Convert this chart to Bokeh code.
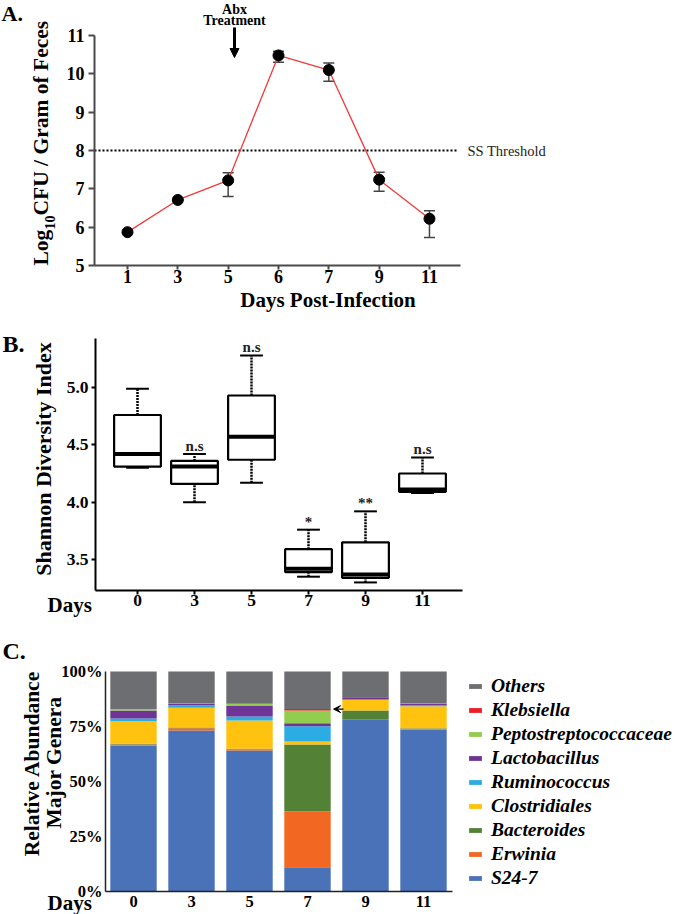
import math
from bokeh.plotting import figure
from bokeh.models import (ColumnDataSource, FixedTicker, Label, Arrow, NormalHead, VeeHead,
                          TeeHead, Whisker, Legend, LegendItem)
from bokeh.layouts import column
from bokeh.embed import file_html
from bokeh.resources import INLINE
from bokeh.core.properties import value

FONT = "Liberation Serif"

# ---------------- data ----------------
# Panel A: pathogen load
days_a = ["1", "3", "5", "6", "7", "9", "11"]
cfu_mean = [5.87, 6.71, 7.22, 10.48, 10.10, 7.24, 6.22]
cfu_lower = [5.87, 6.71, 6.80, 10.30, 9.81, 6.94, 5.73]
cfu_upper = [5.87, 6.71, 7.42, 10.59, 10.28, 7.43, 6.43]
threshold = 8
y_ticks_a = [5, 6, 7, 8, 9, 10, 11]

# Panel B: Shannon diversity box plots
days_b = ["0", "3", "5", "7", "9", "11"]
shannon_low = [4.30, 4.00, 4.17, 3.35, 3.30, 4.08]
shannon_q1 = [4.31, 4.16, 4.37, 3.39, 3.34, 4.09]
shannon_med = [4.42, 4.31, 4.57, 3.42, 3.37, 4.11]
shannon_q3 = [4.76, 4.36, 4.93, 3.59, 3.65, 4.25]
shannon_high = [4.99, 4.42, 5.28, 3.76, 3.92, 4.39]
signif = ["", "n.s", "n.s", "*", "**", "n.s"]
y_ticks_b = [3.5, 4.0, 4.5, 5.0]

# Panel C: relative abundance (%)
days_c = ["0", "3", "5", "7", "9", "11"]
genera = ["S24-7", "Erwinia", "Bacteroides", "Clostridiales", "Ruminococcus",
          "Lactobacillus", "Peptostreptococcaceae", "Klebsiella", "Others"]
s24_7 = [66.4, 73.2, 64.1, 11.0, 78.0, 73.6]
erwinia = [0.4, 1.0, 0.4, 25.4, 0.4, 0.4]
bacteroides = [0.4, 0.3, 0.4, 30.4, 3.9, 0.2]
clostridiales = [10.2, 9.0, 12.8, 1.4, 4.8, 10.0]
ruminococcus = [1.2, 1.2, 1.8, 6.9, 0.3, 0.5]
lactobacillus = [3.7, 0.6, 5.0, 1.4, 0.9, 0.6]
peptostrep = [0.6, 0.2, 0.8, 5.8, 0.0, 0.2]
klebsiella = [0.0, 0.0, 0.0, 0.6, 0.0, 0.0]
others = [17.1, 14.5, 14.7, 17.1, 11.7, 14.5]
y_ticks_c = [0, 25, 50, 75, 100]
colors_c = ["#4A72B8", "#F26722", "#538135", "#FFC20E", "#2BACE2",
            "#6E3596", "#92CD50", "#EE1C25", "#6D6E71"]

# ---------------- helpers ----------------
W = 675


def style_axis(ax, size, line_w=2.0, tick_out=5, standoff=2, color="black"):
    ax.axis_line_color = color
    ax.axis_line_width = line_w
    ax.major_tick_line_color = color if tick_out else None
    ax.major_tick_line_width = line_w
    ax.major_tick_in = 0
    ax.major_tick_out = tick_out
    ax.minor_tick_line_color = None
    ax.major_label_text_font = FONT
    ax.major_label_text_font_style = "bold"
    ax.major_label_text_font_size = size
    ax.major_label_text_color = "black"
    ax.major_label_standoff = standoff


def base_fig(h, xr, yr):
    # the frame fills the whole figure; axes are pinned with fixed_location
    p = figure(width=W, height=h, x_range=xr, y_range=yr, output_backend="svg",
               toolbar_location=None, min_border_left=0, min_border_right=0,
               min_border_top=0, min_border_bottom=0)
    p.grid.visible = False
    p.outline_line_color = None
    p.background_fill_color = "white"
    p.border_fill_color = "white"
    return p


def add_text(p, fig_bottom, text, px, py, size, style="bold", align="left",
             baseline="middle", angle=0.0, color="black"):
    p.add_layout(Label(x=px, y=fig_bottom - py, x_units="screen",
                       y_units="screen", text=text, text_font=FONT, text_font_size=size,
                       text_font_style=style, text_align=align, text_baseline=baseline,
                       angle=angle, text_color=color))


# ---------------- Panel A ----------------
A_TOP, A_BOT = 0, 314
A_X0, A_DX = 127, 50.33
A_Y5, A_DY = 265, 38.33


def ax_a(px):
    return (px - A_X0) / A_DX


def ay_a(py):
    return 5 + (A_Y5 - py) / A_DY


xa = list(range(len(days_a)))
pA = base_fig(A_BOT - A_TOP, (ax_a(0), ax_a(W)), (ay_a(A_BOT), ay_a(A_TOP)))
style_axis(pA.xaxis[0], "18px", tick_out=4, standoff=0, color="#4a4a4a")
style_axis(pA.yaxis[0], "18px", tick_out=6, standoff=4, color="#4a4a4a")
pA.xaxis.ticker = FixedTicker(ticks=xa)
pA.xaxis.major_label_overrides = {i: d for i, d in enumerate(days_a)}
pA.xaxis.bounds = (ax_a(94), ax_a(460))
pA.xaxis.fixed_location = y_ticks_a[0]
pA.yaxis.ticker = FixedTicker(ticks=y_ticks_a)
pA.yaxis.bounds = (y_ticks_a[0], y_ticks_a[-1])
pA.yaxis.fixed_location = ax_a(94)

srcA = ColumnDataSource(dict(x=xa, mean=cfu_mean, lower=cfu_lower, upper=cfu_upper))
pA.line([ax_a(94), ax_a(458)], [threshold, threshold], line_dash="2 2",
        line_color="black", line_width=2)
pA.line("x", "mean", source=srcA, line_color="#F03A3A", line_width=1.3)
pA.add_layout(Whisker(base="x", lower="lower", upper="upper", source=srcA,
                      line_color="#444444", line_width=1.5,
                      upper_head=TeeHead(size=11, line_color="#444444", line_width=1.5),
                      lower_head=TeeHead(size=11, line_color="#444444", line_width=1.5)))
pA.scatter("x", "mean", source=srcA, size=11, color="black")

pA.add_layout(Label(x=ax_a(460), y=threshold, x_offset=7, text="SS Threshold",
                    text_font=FONT, text_font_size="14.5px", text_baseline="middle",
                    text_color="#222222"))
pA.add_layout(Arrow(x_start=ax_a(234), y_start=ay_a(27), x_end=ax_a(234), y_end=ay_a(57),
                    line_width=3, line_color="black",
                    end=NormalHead(size=9, fill_color="black", line_color="black")))
add_text(pA, A_BOT, "Abx", 234, 9, "14px", align="center")
add_text(pA, A_BOT, "Treatment", 234, 20, "14px", align="center")
add_text(pA, A_BOT, "A.", 1, 13, "22px")
add_text(pA, A_BOT, "Log", 40, 265, "21.5px", angle=math.pi / 2)
add_text(pA, A_BOT, "10", 49, 229, "14px", angle=math.pi / 2)
add_text(pA, A_BOT, " CFU / Gram of Feces", 40, 215, "21.5px", angle=math.pi / 2)
add_text(pA, A_BOT, "Days Post-Infection", 327.5, 299.5, "21px", align="center")

# ---------------- Panel B ----------------
B_TOP, B_BOT = 314, 618
B_X0, B_DX = 137, 57
B_YREF, B_DY = 559, 114.67


def ax_b(px):
    return (px - B_X0) / B_DX


def ay_b(py):
    return 3.5 + (B_YREF - py) / B_DY


xb = list(range(len(days_b)))
pB = base_fig(B_BOT - B_TOP, (ax_b(0), ax_b(W)), (ay_b(B_BOT), ay_b(B_TOP)))
style_axis(pB.xaxis[0], "17.5px", tick_out=4, standoff=0)
style_axis(pB.yaxis[0], "17.5px", tick_out=4, standoff=3)
pB.xaxis.ticker = FixedTicker(ticks=xb)
pB.xaxis.major_label_overrides = {i: d for i, d in enumerate(days_b)}
pB.xaxis.bounds = (ax_b(95), ax_b(462))
pB.xaxis.fixed_location = ay_b(590)
pB.yaxis.ticker = FixedTicker(ticks=y_ticks_b)
pB.yaxis.major_label_overrides = {t: f"{t:.1f}" for t in y_ticks_b}
pB.yaxis.bounds = (ay_b(590), ay_b(338))
pB.yaxis.fixed_location = ax_b(95)

half_box, half_cap = 0.41, 0.2
srcB = ColumnDataSource(dict(
    x=xb, low=shannon_low, q1=shannon_q1, med=shannon_med, q3=shannon_q3,
    high=shannon_high, sig=signif,
    bl=[v - half_box for v in xb], br=[v + half_box for v in xb],
    cl=[v - half_cap for v in xb], cr=[v + half_cap for v in xb]))
pB.segment(x0="x", y0="q3", x1="x", y1="high", source=srcB, line_dash="2 1",
           line_width=2.5, line_color="black")
pB.segment(x0="x", y0="low", x1="x", y1="q1", source=srcB, line_dash="2 1",
           line_width=2.5, line_color="black")
pB.segment(x0="cl", y0="high", x1="cr", y1="high", source=srcB, line_width=2,
           line_color="black")
pB.segment(x0="cl", y0="low", x1="cr", y1="low", source=srcB, line_width=2,
           line_color="black")
pB.quad(left="bl", right="br", bottom="q1", top="q3", source=srcB, fill_color="white",
        line_color="black", line_width=2.2)
pB.segment(x0="bl", y0="med", x1="br", y1="med", source=srcB, line_width=4,
           line_color="black")
pB.text(x="x", y="high", text="sig", source=srcB, y_offset=-8, text_align="center",
        text_baseline="middle", text_font=value(FONT), text_font_style="bold",
        text_font_size="15px", text_color="#222222")

add_text(pB, B_BOT, "B.", 2, 343.5, "24px")
add_text(pB, B_BOT, "Shannon Diversity Index", 42.5, 458.5, "22px", align="center",
         angle=math.pi / 2)
add_text(pB, B_BOT, "Days", 47, 604, "21px")

# ---------------- Panel C ----------------
C_TOP, C_BOT = 618, 914
C_X0, C_DX = 133, 58
C_Y0, C_DY = 891, 2.2   # page y of 0 %, px per %


def ax_c(px):
    return (px - C_X0) / C_DX


def ay_c(py):
    return (C_Y0 - py) / C_DY


xc = list(range(len(days_c)))
pC = base_fig(C_BOT - C_TOP, (ax_c(0), ax_c(W)), (ay_c(C_BOT), ay_c(C_TOP)))
style_axis(pC.xaxis[0], "16.5px", line_w=1.5, tick_out=0, standoff=4, color="#222222")
style_axis(pC.yaxis[0], "16.5px", line_w=1.5, tick_out=0, standoff=3, color="#222222")
pC.xaxis.ticker = FixedTicker(ticks=xc)
pC.xaxis.major_label_overrides = {i: d for i, d in enumerate(days_c)}
pC.xaxis.bounds = (ax_c(105), ax_c(452))
pC.xaxis.fixed_location = y_ticks_c[0]
pC.yaxis.ticker = FixedTicker(ticks=y_ticks_c)
pC.yaxis.major_label_overrides = {t: f"{t}%" for t in y_ticks_c}
pC.yaxis.bounds = (y_ticks_c[0], y_ticks_c[-1])
pC.yaxis.fixed_location = ax_c(105)

series_c = [s24_7, erwinia, bacteroides, clostridiales, ruminococcus,
            lactobacillus, peptostrep, klebsiella, others]
srcC = ColumnDataSource(dict(x=xc, **{g: v for g, v in zip(genera, series_c)}))
rs = pC.vbar_stack(genera, x="x", width=0.8, fill_color=colors_c, line_color=None,
                   source=srcC)

legend = Legend(items=[LegendItem(label=value(g), renderers=[r])
                       for g, r in reversed(list(zip(genera, rs)))],
                location=(467, 25), orientation="vertical",
                border_line_color=None, background_fill_alpha=0,
                padding=0, margin=0, spacing=2, label_height=21,
                glyph_height=6, glyph_width=16, label_standoff=8,
                label_text_font=FONT, label_text_font_style="bold italic",
                label_text_font_size="19.5px", label_text_color="black")
pC.add_layout(legend)

i7 = days_c.index("7")
kleb_top = sum(s[i7] for s in series_c[:8])
pC.add_layout(Arrow(x_start=i7 + 0.62, y_start=kleb_top, x_end=i7 + 0.45, y_end=kleb_top,
                    line_width=1.2, line_color="black",
                    end=VeeHead(size=7, fill_color="black", line_color="black")))

add_text(pC, C_BOT, "C.", 2, 650, "24px")
add_text(pC, C_BOT, "Relative Abundance", 31, 763, "21.5px", align="center",
         angle=math.pi / 2)
add_text(pC, C_BOT, "Major Genera", 53, 762, "21.5px", align="center",
         angle=math.pi / 2)
add_text(pC, C_BOT, "Days", 47, 902, "21px")

layout = column(pA, pB, pC)
with open("out.html", "w") as f:
    f.write(file_html(layout, INLINE, title="Figure"))
